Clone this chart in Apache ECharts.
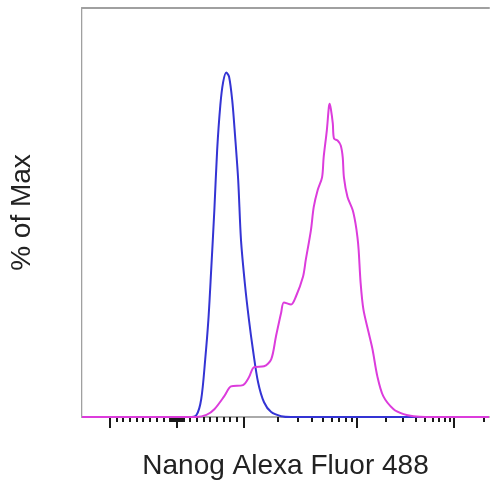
<!DOCTYPE html>
<html>
<head>
<meta charset="utf-8">
<script src="https://cdn.jsdelivr.net/npm/echarts@6/dist/echarts.min.js"></script>
<style>
  html, body { margin: 0; padding: 0; background: #fff; }
  #chart { width: 491px; height: 485px; }
</style>
</head>
<body>
<div id="chart"></div>
<script>
// display channel (0..1024) vs % of max
var isotypeCurve = [
    [0, 0], [270, 0], [288, 0.5], [300, 4.4], [310, 14.1], [318, 23.8], [325, 35.9],
    [333, 50.6], [340, 65.2], [348, 76.2], [355, 81.8], [363, 84.2], [370, 83.2],
    [378, 77.4], [385, 68.9], [393, 57.9], [400, 43.3], [410, 32.4], [420, 23.8],
    [430, 16.5], [443, 8.5], [458, 3.6], [476, 1.2], [501, 0.2], [526, 0], [1024, 0]
];
var nanogCurve = [
    [0, 0], [288, 0], [313, 0.5], [333, 1.9], [358, 5.1], [375, 7.5], [405, 7.8],
    [420, 9.7], [433, 12.2], [458, 12.4], [476, 14.1], [488, 19.7], [501, 25.5],
    [508, 28], [526, 27.5], [538, 29.4], [556, 34.3], [563, 38.4], [576, 45.7],
    [583, 51.3], [593, 55.5], [604, 58.6], [608, 63.5], [616, 70.1], [621, 75.7],
    [623, 76.6], [626, 75.4], [631, 71.8], [634, 68.1], [643, 67.6], [651, 66.4],
    [656, 63.5], [659, 58.6], [668, 53.8], [681, 50.6], [688, 47.4], [693, 44],
    [696, 40.9], [701, 32.8], [708, 26.3], [721, 20.7], [731, 16.5], [743, 10],
    [758, 5.1], [784, 1.9], [809, 0.7], [834, 0.2], [864, 0], [1024, 0]
];

// fluorescence tick values of the biexponential axis
var majorTicks = [-1000, 0, 1000, 10000, 100000];
var minorTicks = [
    -900, -800, -700, -600, -500, -400, -300, -200, -100,
    -90, -80, -70, -60, -50, -40, -30, -20, -10,
    10, 20, 30, 40, 50, 60, 70, 80, 90,
    100, 200, 300, 400, 500, 600, 700, 800, 900,
    2000, 3000, 4000, 5000, 6000, 7000, 8000, 9000,
    20000, 30000, 40000, 50000, 60000, 70000, 80000, 90000,
    200000
];

// value -> display channel (linear around zero, log above 10^3)
function toChannel(v) {
    if (Math.abs(v) <= 1000) {
        return 238 + v * 0.1678;
    }
    var d = Math.log10(v);
    if (d <= 4) {
        return 405.8 + (d - 3) * 285.2;
    }
    return 691 + (d - 4) * 245.5;
}

var chart = echarts.init(document.getElementById('chart'));
var textFont = 'Liberation Sans, Arial, sans-serif';
var option = {
    animation: false,
    grid: { left: 78, top: 8, right: 2, bottom: 67 },
    xAxis: [{
        type: 'value', min: 0, max: 1024, position: 'bottom',
        name: 'Nanog Alexa Fluor 488', nameLocation: 'middle', nameGap: 35,
        nameTextStyle: { fontFamily: textFont, fontSize: 28, color: '#222' },
        axisLine: { show: true, lineStyle: { color: '#aaa', width: 2 } },
        axisTick: { show: true, customValues: majorTicks.map(toChannel), length: 11, lineStyle: { color: '#1a1a1a', width: 2 } },
        axisLabel: { show: false },
        splitLine: { show: false }
    }, {
        type: 'value', min: 0, max: 1024, position: 'bottom',
        axisLine: { show: false },
        axisTick: { show: true, customValues: minorTicks.map(toChannel), length: 5, lineStyle: { color: '#1a1a1a', width: 2 } },
        axisLabel: { show: false },
        splitLine: { show: false }
    }, {
        type: 'value', min: 0, max: 1024, position: 'top',
        axisLine: { show: true, lineStyle: { color: '#a0a0a0', width: 2 } },
        axisTick: { show: false }, axisLabel: { show: false }, splitLine: { show: false }
    }],
    yAxis: [{
        type: 'value', min: 0, max: 100, position: 'left',
        name: '% of Max', nameLocation: 'middle', nameGap: 46,
        nameTextStyle: { fontFamily: textFont, fontSize: 28, color: '#222' },
        axisLine: { show: true, lineStyle: { color: '#a0a0a0', width: 2 } },
        axisTick: { show: false }, axisLabel: { show: false }, splitLine: { show: false }
    }, {
        type: 'value', min: 0, max: 100, position: 'right',
        axisLine: { show: true, lineStyle: { color: '#e4e4e4', width: 1 } },
        axisTick: { show: false }, axisLabel: { show: false }, splitLine: { show: false }
    }],
    series: [{
        type: 'line', data: isotypeCurve, xAxisIndex: 0, yAxisIndex: 0,
        smooth: 0.3, showSymbol: false, z: 3,
        lineStyle: { color: '#3434d4', width: 2 }
    }, {
        type: 'line', data: nanogCurve, xAxisIndex: 0, yAxisIndex: 0,
        smooth: 0.3, showSymbol: false, z: 4,
        lineStyle: { color: '#dc3cdc', width: 2 }
    }]
};
chart.setOption(option);
</script>
</body>
</html>
